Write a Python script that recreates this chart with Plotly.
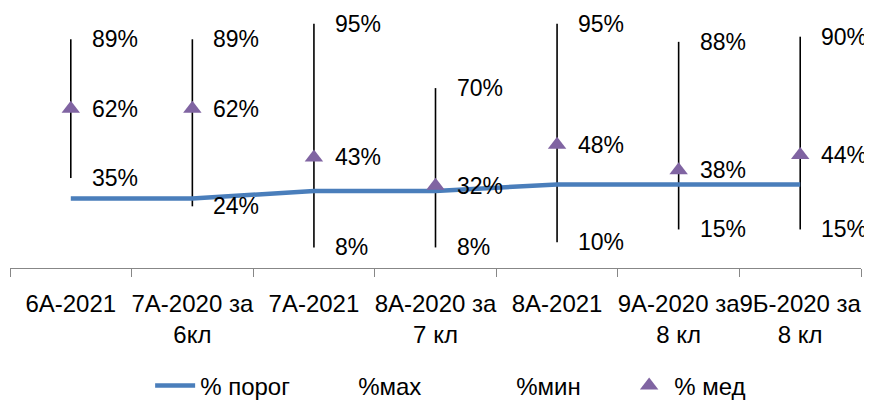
import plotly.graph_objects as go

categories = ["6А-2021", "7А-2020 за<br>6кл", "7А-2021", "8А-2020 за<br>7 кл",
              "8А-2021", "9А-2020 за<br>8 кл", "9Б-2020 за<br>8 кл"]
threshold = [27, 27, 30, 30, 32.5, 32.5, 32.5]
max_vals = [89, 89, 95, 70, 95, 88, 90]
min_vals = [35, 24, 8, 8, 10, 15, 15]
med_vals = [62, 62, 43, 32, 48, 38, 44]

FONT = "Liberation Sans"
TXT = 23
TICK = 24

fig = go.Figure()

# high-low lines
hx, hy = [], []
for c, lo, hi in zip(categories, min_vals, max_vals):
    hx += [c, c, None]
    hy += [lo, hi, None]
fig.add_trace(go.Scatter(x=hx, y=hy, mode="lines", line=dict(color="black", width=1.6),
                         showlegend=False, hoverinfo="skip"))

fig.add_trace(go.Scatter(x=categories, y=threshold, mode="lines", name="% порог",
                         line=dict(color="#4A7EBB", width=4.5)))
fig.add_trace(go.Scatter(x=categories, y=max_vals, mode="markers", name="%мах",
                         marker=dict(color="rgba(0,0,0,0)", size=1)))
fig.add_trace(go.Scatter(x=categories, y=min_vals, mode="markers", name="%мин",
                         marker=dict(color="rgba(0,0,0,0)", size=1)))
fig.add_trace(go.Scatter(x=categories, y=med_vals, mode="markers", name="% мед",
                         marker=dict(symbol="triangle-up", color="#8064A2", size=16)))

annotations = []
for series in (max_vals, min_vals, med_vals):
    for c, v in zip(categories, series):
        annotations.append(dict(x=c, y=v, text=f"{v}%", showarrow=False,
                                xanchor="left", yanchor="middle", xshift=19,
                                font=dict(family=FONT, size=TXT, color="black")))

fig.update_layout(
    template="none",
    width=864, height=396,
    margin=dict(l=2, r=11, t=3, b=136, autoexpand=False),
    paper_bgcolor="white", plot_bgcolor="white",
    font=dict(family=FONT, size=TXT, color="black"),
    annotations=annotations,
    showlegend=True,
    legend=dict(orientation="h", x=0.536, xanchor="center", y=-0.459, yanchor="middle",
                font=dict(family=FONT, size=TICK, color="black"), itemwidth=40,
                entrywidth=103, bgcolor="rgba(0,0,0,0)"),
    xaxis=dict(type="category", categoryorder="array", categoryarray=categories,
               range=[-0.5, 6.5], showline=True, linecolor="#878787", linewidth=1,
               ticks="outside", tickson="boundaries", ticklen=8, tickcolor="#878787",
               showgrid=False, zeroline=False, ticklabelstandoff=14, automargin=False,
               tickangle=0, tickfont=dict(family=FONT, size=TICK, color="black")),
    yaxis=dict(range=[0, 100], showticklabels=False, showgrid=False, zeroline=False,
               showline=False, ticks="", automargin=False),
)

fig.write_html("out.html")
